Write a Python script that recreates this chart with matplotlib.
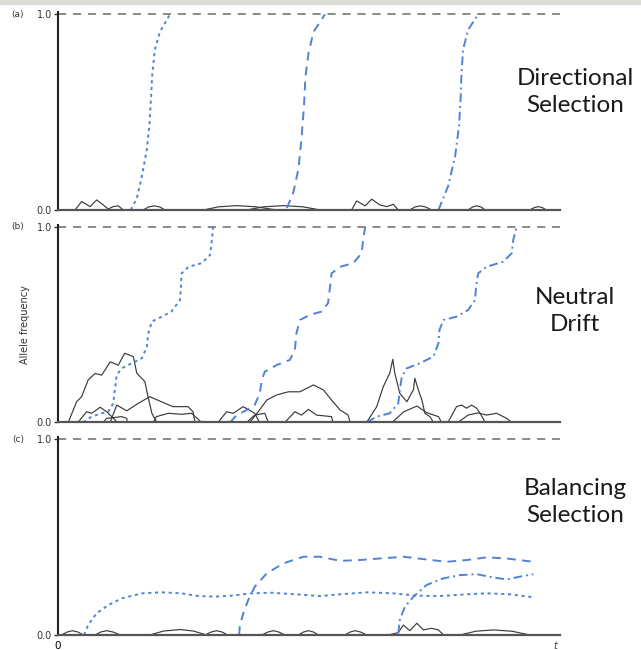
import matplotlib
matplotlib.use("Agg")
import matplotlib.pyplot as plt
from matplotlib.patches import Rectangle

# ---- data (x: time 0..100, y: allele frequency) ----
panel_tags = ["(a)", "(b)", "(c)"]
panel_names = ["Directional\nSelection", "Neutral\nDrift", "Balancing\nSelection"]

# (a) directional selection: three sweeps
a_dot_x = [14.5, 15.7, 16.7, 17.7, 18.2, 18.5, 18.8, 19.3, 20.3, 22.3]
a_dot_y = [0, 0.06, 0.17, 0.31, 0.43, 0.56, 0.70, 0.82, 0.91, 1.0]
a_dash_x = [45.6, 46.9, 47.9, 48.5, 49.0, 49.3, 49.9, 50.9, 53.2]
a_dash_y = [0.01, 0.09, 0.21, 0.36, 0.53, 0.68, 0.80, 0.91, 1.0]
a_dd_x = [75.8, 77.7, 79.1, 79.9, 80.2, 80.4, 80.7, 81.7, 83.7]
a_dd_y = [0, 0.12, 0.27, 0.43, 0.56, 0.70, 0.82, 0.92, 1.0]
a_lost = [
    ([3.4, 4.7, 6.4, 7.7, 9.0, 10.0, 11.0, 12.0, 13.0],
     [0, 0.043, 0.017, 0.051, 0.026, 0.005, 0.017, 0.021, 0]),
    ([17.0, 18.0, 19.2, 20.3, 21.3], [0, 0.015, 0.021, 0.015, 0]),
    ([29.0, 32.0, 35.6, 39.5, 43.5], [0, 0.016, 0.022, 0.016, 0]),
    ([37.6, 41.0, 44.9, 48.8, 52.2], [0, 0.016, 0.022, 0.016, 0]),
    ([58.5, 59.5, 61.2, 62.5, 64.1, 65.5, 66.8, 67.8],
     [0, 0.046, 0.021, 0.055, 0.026, 0.017, 0.029, 0]),
    ([70.1, 71.1, 72.1, 73.3, 74.4], [0, 0.015, 0.021, 0.015, 0]),
    ([81.7, 82.6, 83.4, 84.3, 85.1], [0, 0.015, 0.021, 0.015, 0]),
    ([94.0, 94.9, 95.7, 96.5, 97.3], [0, 0.012, 0.017, 0.012, 0]),
]

# (b) neutral drift: three fixations by drift
b_dot_x = [5.0, 6.7, 8.7, 10.0, 11.0, 11.4, 11.7, 12.7, 14.7, 16.7, 17.7, 18.0,
           18.7, 20.7, 22.6, 24.3, 24.5, 24.6, 26.0, 28.6, 30.3, 30.6, 30.9]
b_dot_y = [0, 0.029, 0.046, 0.054, 0.097, 0.182, 0.242, 0.276, 0.302, 0.327, 0.386, 0.455,
           0.515, 0.540, 0.566, 0.625, 0.693, 0.761, 0.795, 0.813, 0.855, 0.915, 1.0]
b_dash_x = [34.3, 35.6, 37.6, 39.2, 40.2, 40.6, 41.2, 43.6, 46.2, 47.2, 47.5,
            48.2, 50.2, 52.5, 53.8, 54.2, 54.5, 56.2, 58.8, 60.5, 60.8, 61.2]
b_dash_y = [0, 0.037, 0.063, 0.089, 0.148, 0.217, 0.259, 0.293, 0.319, 0.370, 0.455,
            0.523, 0.549, 0.566, 0.609, 0.693, 0.761, 0.795, 0.813, 0.864, 0.932, 1.0]
b_dd_x = [61.5, 63.5, 66.1, 67.8, 68.1, 68.5, 69.5, 72.1, 74.8, 75.8, 76.0,
          76.8, 79.4, 81.7, 83.1, 83.3, 83.7, 85.4, 88.7, 90.4, 90.7, 91.4]
b_dd_y = [0, 0.029, 0.046, 0.097, 0.165, 0.233, 0.276, 0.302, 0.336, 0.404, 0.472,
          0.523, 0.540, 0.574, 0.625, 0.693, 0.761, 0.795, 0.821, 0.864, 0.932, 1.0]
b_lost = [
    ([2.05, 3.7, 4.7, 6.0, 7.4, 8.7, 10.4, 12.0, 13.3, 15.0, 15.7, 17.3, 18.0, 18.7, 19.7],
     [0, 0.105, 0.131, 0.216, 0.250, 0.241, 0.309, 0.292, 0.353, 0.336, 0.251, 0.208, 0.123, 0.046, 0]),
    ([4.0, 5.7, 6.7, 8.4, 9.7, 11.4, 11.7], [0, 0.054, 0.046, 0.077, 0.054, 0.012, 0]),
    ([9.0, 9.7, 12.7, 13.7, 13.8], [0, 0.020, 0.029, 0.020, 0]),
    ([10.4, 11.7, 13.7, 16.0, 18.3, 20.6, 22.9, 25.9, 26.9, 27.3],
     [0, 0.088, 0.059, 0.097, 0.131, 0.105, 0.080, 0.080, 0.054, 0]),
    ([19.0, 19.6, 22.0, 24.6, 26.6, 28.6], [0, 0.029, 0.046, 0.041, 0.046, 0]),
    ([31.9, 33.6, 34.9, 36.9, 39.2, 39.9, 40.2], [0, 0.054, 0.046, 0.080, 0.046, 0.012, 0]),
    ([37.6, 39.2, 41.2, 41.9], [0, 0.037, 0.046, 0]),
    ([38.2, 39.9, 41.6, 43.6, 45.9, 48.2, 50.9, 52.9, 54.5, 56.2, 57.8, 58.2],
     [0, 0.054, 0.114, 0.140, 0.156, 0.156, 0.191, 0.165, 0.114, 0.063, 0.037, 0]),
    ([45.2, 47.2, 48.5, 49.9, 51.5, 54.5, 54.8], [0, 0.054, 0.037, 0.066, 0.037, 0.029, 0]),
    ([61.5, 63.5, 64.8, 66.1, 66.7, 67.1, 68.1, 69.5, 70.8, 71.1, 71.8, 72.5, 73.1, 74.1, 74.8],
     [0, 0.080, 0.182, 0.251, 0.322, 0.251, 0.148, 0.105, 0.165, 0.225, 0.165, 0.114, 0.046, 0.029, 0]),
    ([66.6, 68.9, 71.5, 73.5, 75.8, 76.4], [0, 0.054, 0.083, 0.049, 0.029, 0]),
    ([77.7, 79.4, 80.4, 81.4, 82.4, 83.4, 84.1, 85.1], [0, 0.080, 0.088, 0.072, 0.088, 0.072, 0.046, 0]),
    ([79.7, 81.7, 83.7, 85.4, 87.4, 89.4, 90.4], [0, 0.037, 0.048, 0.037, 0.046, 0.020, 0]),
]

# (c) balancing selection: alleles settle at intermediate frequency
c_dot_x = [5.2, 6.0, 7.7, 10.0, 12.7, 16.7, 20.6, 24.6, 28.0, 31.3, 34.6, 38.6,
           42.6, 47.2, 52.2, 56.2, 61.5, 66.8, 71.4, 76.1, 81.4, 85.4, 90.0, 95.0]
c_dot_y = [0, 0.051, 0.111, 0.153, 0.187, 0.213, 0.218, 0.213, 0.199, 0.196, 0.201, 0.213,
           0.216, 0.208, 0.199, 0.208, 0.218, 0.213, 0.201, 0.199, 0.208, 0.213, 0.208, 0.192]
c_dash_x = [36.1, 36.2, 36.9, 37.9, 39.2, 41.6, 44.9, 48.9, 52.2, 56.2, 60.1, 64.1,
            68.8, 73.4, 77.4, 81.4, 85.4, 89.4, 94.7]
c_dash_y = [0, 0.042, 0.110, 0.179, 0.247, 0.315, 0.366, 0.400, 0.400, 0.379, 0.383, 0.391,
            0.400, 0.386, 0.374, 0.383, 0.397, 0.391, 0.374]
c_dd_x = [67.8, 68.1, 69.1, 70.8, 73.4, 76.7, 80.1, 83.4, 86.7, 89.4, 92.0, 94.7]
c_dd_y = [0.008, 0.077, 0.144, 0.195, 0.255, 0.289, 0.306, 0.311, 0.294, 0.284, 0.298, 0.311]
c_lost = [
    ([0.7, 1.8, 2.9, 4.0, 5.0], [0, 0.015, 0.022, 0.015, 0]),
    ([7.4, 8.5, 9.7, 11.0, 12.4], [0, 0.015, 0.022, 0.015, 0]),
    ([18.3, 21.0, 24.3, 27.0, 29.6], [0, 0.020, 0.028, 0.020, 0]),
    ([29.3, 30.5, 31.6, 32.7, 33.8], [0, 0.015, 0.022, 0.015, 0]),
    ([40.6, 41.8, 42.9, 44.0, 45.2], [0, 0.015, 0.022, 0.015, 0]),
    ([47.9, 48.9, 49.9, 50.9, 51.9], [0, 0.015, 0.022, 0.015, 0]),
    ([57.2, 58.2, 59.2, 60.3, 61.5], [0, 0.015, 0.022, 0.015, 0]),
    ([65.8, 67.8, 68.8, 70.1, 71.5, 72.8, 74.4, 75.8, 76.8],
     [0, 0.012, 0.051, 0.022, 0.060, 0.026, 0.034, 0.026, 0]),
    ([80.1, 83.2, 86.7, 90.5, 94.0], [0, 0.019, 0.026, 0.019, 0]),
]

blue_lines = [
    [(a_dot_x, a_dot_y), (a_dash_x, a_dash_y), (a_dd_x, a_dd_y)],
    [(b_dot_x, b_dot_y), (b_dash_x, b_dash_y), (b_dd_x, b_dd_y)],
    [(c_dot_x, c_dot_y), (c_dash_x, c_dash_y), (c_dd_x, c_dd_y)],
]
lost_lines = [a_lost, b_lost, c_lost]

BLUE = "#5083d4"
blue_dashes = [(1.6, 1.9), (4.5, 3.2), (4.5, 2.0, 1.0, 2.0)]

fig = plt.figure(figsize=(6.41, 6.5), dpi=100)
fig.patches.append(Rectangle((0, 0.994), 1, 0.006, transform=fig.transFigure,
                             color="#dcdcd4", zorder=0))

bottoms = [0.677, 0.3503, 0.0231]
name_y = [0.858, 0.5215, 0.228]
for i in range(3):
    ax = fig.add_axes([0.0905, bottoms[i], 0.783, 0.301])
    ax.set_xlim(0, 100)
    ax.set_ylim(0, 1.0)
    for s in ["top", "right"]:
        ax.spines[s].set_visible(False)
    ax.spines["left"].set_linewidth(1.5)
    ax.spines["left"].set_color("#222222")
    ax.spines["left"].set_bounds(0, 1.01)
    ax.spines["bottom"].set_linewidth(1.6)
    ax.spines["bottom"].set_color("#555555")
    ax.set_yticks([0, 1.0])
    ax.set_yticklabels(["0.0", "1.0"], fontsize=7, color="#333333")
    ax.tick_params(axis="y", length=3, width=1, pad=1.5, color="#333333")
    ax.set_xticks([])

    # fixation line
    ax.plot([0, 100], [1.0, 1.0], color="#8a8a8a", lw=1.4, dashes=(4.2, 3.5), clip_on=False)

    for xs, ys in lost_lines[i]:
        ax.plot(xs, ys, color="#3a3a3a", lw=0.85, clip_on=False)

    for (xs, ys), d in zip(blue_lines[i], blue_dashes):
        ax.plot(xs, ys, color=BLUE, lw=1.4, dashes=d, clip_on=False)

    ax.text(-0.08, 1.0, panel_tags[i], transform=ax.transAxes, fontsize=6.5,
            color="#333333", ha="center", va="center")
    fig.text(0.897, name_y[i], panel_names[i], fontsize=17.5, family="Lato",
             ha="center", va="center", color="#1a1a1a", linespacing=1.35)

    if i == 1:
        ax.set_ylabel("Allele frequency", fontsize=7, color="#333333", labelpad=5)
    if i == 2:
        ax.text(0, -0.03, "0", transform=ax.transAxes, fontsize=7.5, ha="center", va="top")
        ax.text(0.99, -0.03, "t", transform=ax.transAxes, fontsize=7, style="italic",
                ha="center", va="top", color="#444444")

fig.savefig("out.png", dpi=100)
